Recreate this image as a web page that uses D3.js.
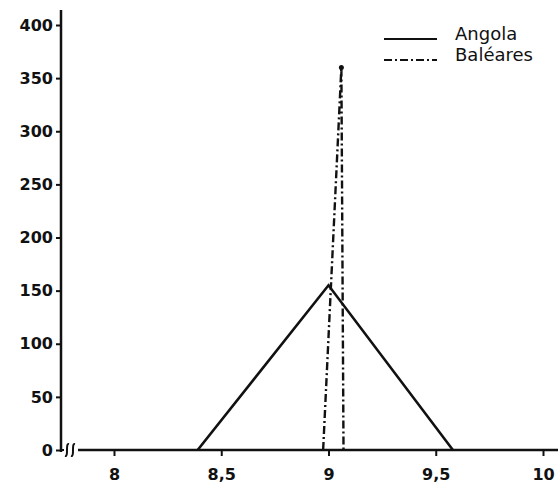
<!DOCTYPE html>
<html>
<head>
<meta charset="utf-8">
<title>Angola / Baléares</title>
<style>
  body { margin: 0; background: #fff; }
  svg text { font-family: "DejaVu Sans", sans-serif; fill: #111; }
  .tick text { font-weight: bold; font-size: 16px; }
  .tick line { stroke: #111; stroke-width: 2; }
  .leg { font-size: 18px; }
</style>
</head>
<body>
<svg id="chart"></svg>
<script src="https://cdnjs.cloudflare.com/ajax/libs/d3/7.8.5/d3.min.js"></script>
<script>
// tick values
var xTicks = [8, 8.5, 9, 9.5, 10];
var yTicks = [0, 50, 100, 150, 200, 250, 300, 350, 400];

// series
var angolaX = [8.39, 9.0, 9.58];
var angolaY = [0, 155, 0];
var balearesX = [8.975, 9.06, 9.07];
var balearesY = [0, 360, 0];

var seriesNames = ["Angola", "Baléares"];

var width = 558, height = 493;

var svg = d3.select("#chart")
    .attr("width", width)
    .attr("height", height);

var x = d3.scaleLinear().domain([8, 10]).range([114, 543]);
var y = d3.scaleLinear().domain([0, 400]).range([450, 25]);

var fmt = function(d) { return String(d).replace(".", ","); };

// y axis
var yAxis = svg.append("g")
    .attr("transform", "translate(61,0)")
    .call(d3.axisLeft(y).tickValues(yTicks).tickSize(5).tickPadding(3).tickFormat(fmt));
yAxis.select(".domain").remove();
svg.append("line")
    .attr("x1", 61).attr("x2", 61)
    .attr("y1", 10).attr("y2", y(0) + 2)
    .attr("stroke", "#111").attr("stroke-width", 2.5);

// x axis
var xAxis = svg.append("g")
    .attr("transform", "translate(0," + y(0) + ")")
    .call(d3.axisBottom(x).tickValues(xTicks).tickSize(6).tickPadding(13).tickFormat(fmt));
xAxis.select(".domain").remove();
svg.append("line")
    .attr("x1", 61).attr("x2", 64)
    .attr("y1", y(0)).attr("y2", y(0))
    .attr("stroke", "#111").attr("stroke-width", 2);
svg.append("line")
    .attr("x1", 78).attr("x2", width)
    .attr("y1", y(0)).attr("y2", y(0))
    .attr("stroke", "#111").attr("stroke-width", 2.5);

// axis break marks
[67, 73].forEach(function(bx) {
  svg.append("path")
      .attr("d", "M" + (bx + 2) + "," + (y(0) - 6) +
                 " C" + (bx - 2) + "," + (y(0) - 7) + " " + (bx + 2) + "," + (y(0) + 7) + " " + (bx - 2) + "," + (y(0) + 6))
      .attr("fill", "none").attr("stroke", "#111").attr("stroke-width", 2);
});

var line = d3.line()
    .x(function(d) { return x(d[0]); })
    .y(function(d) { return y(d[1]); });

svg.append("path")
    .datum(d3.zip(angolaX, angolaY))
    .attr("d", line)
    .attr("fill", "none")
    .attr("stroke", "#111")
    .attr("stroke-width", 2.6);

svg.append("path")
    .datum(d3.zip(balearesX, balearesY))
    .attr("d", line)
    .attr("fill", "none")
    .attr("stroke", "#111")
    .attr("stroke-width", 2.4)
    .attr("stroke-dasharray", "8,3,2,3");

svg.append("circle")
    .attr("cx", x(balearesX[1]))
    .attr("cy", y(balearesY[1]))
    .attr("r", 2.5)
    .attr("fill", "#111");

// legend
var legY = [39, 60];
svg.append("line")
    .attr("x1", 384).attr("x2", 437)
    .attr("y1", legY[0]).attr("y2", legY[0])
    .attr("stroke", "#111").attr("stroke-width", 2);
svg.append("line")
    .attr("x1", 384).attr("x2", 437)
    .attr("y1", legY[1]).attr("y2", legY[1])
    .attr("stroke", "#111").attr("stroke-width", 2)
    .attr("stroke-dasharray", "8,3,2,3");
svg.selectAll(".leg")
    .data(seriesNames)
    .enter().append("text")
    .attr("class", "leg")
    .attr("x", 455)
    .attr("y", function(d, i) { return legY[i] + 1; })
    .text(function(d) { return d; });
</script>
</body>
</html>
